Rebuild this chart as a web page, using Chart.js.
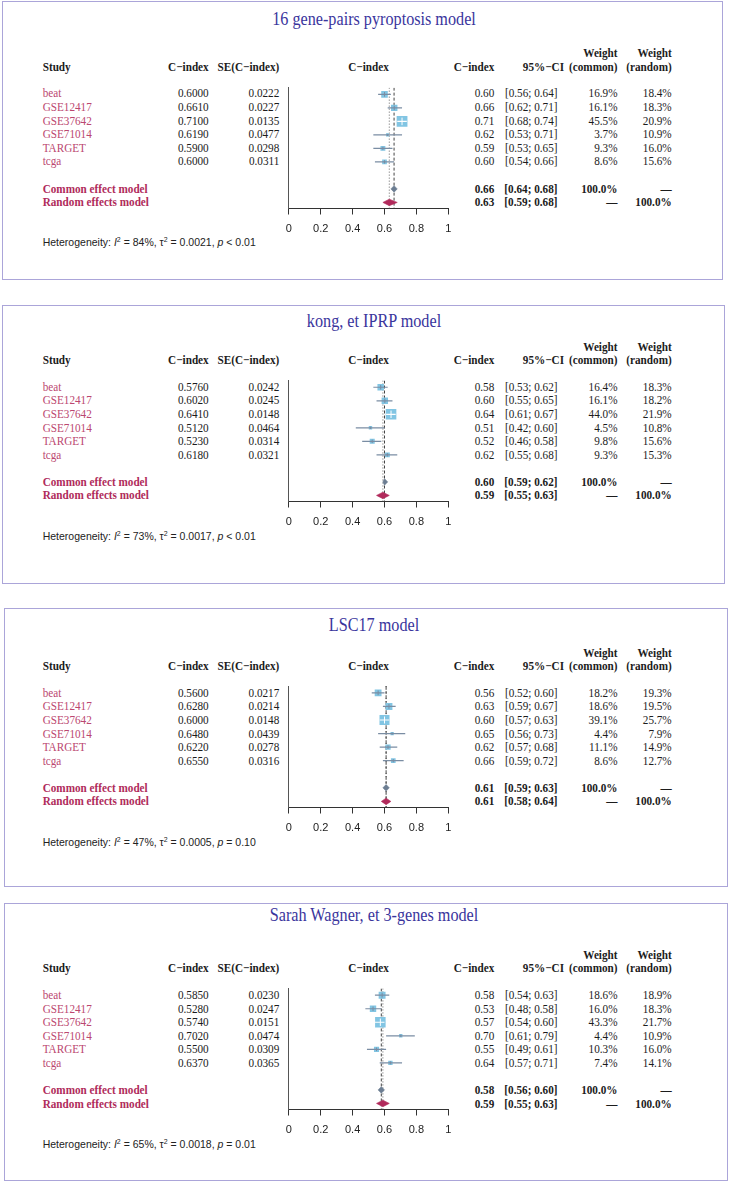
<!DOCTYPE html>
<html>
<head>
<meta charset="utf-8">
<script src="https://cdn.jsdelivr.net/npm/chart.js@4.4.1/dist/chart.umd.min.js"></script>
<style>
    html, body { margin: 0; padding: 0; background: #fff; }
    #page { position: relative; width: 729px; height: 1182px; overflow: hidden; }
    .box { position: absolute; border: 1px solid #aba5d9; box-sizing: border-box; }
    .t {
        position: absolute;
        white-space: nowrap;
        line-height: 1;
        font-family: 'Liberation Serif', 'Times New Roman', serif;
        font-size: 11.2px;
        color: #1c1c1c;
    }
    .title { font-size: 16.2px; color: #3a359d; }
    .b { font-weight: bold; }
    .study { color: #bb4770; }
    .model { color: #b02b5b; font-weight: bold; }
    .het { font-family: 'Liberation Sans', Arial, sans-serif; font-size: 10.5px; color: #222; }
    .het sup { font-size: 7px; vertical-align: 0; position: relative; top: -4px; }
    canvas { position: absolute; }
</style>
</head>
<body>
<div id="page"></div>
<script>
// ---- data ----
const models = ['16 gene-pairs pyroptosis model', 'kong, et IPRP model', 'LSC17 model', 'Sarah Wagner, et 3-genes model'];
const studies = ['beat', 'GSE12417', 'GSE37642', 'GSE71014', 'TARGET', 'tcga'];

const cIndex = [
    [0.6000, 0.6610, 0.7100, 0.6190, 0.5900, 0.6000],
    [0.5760, 0.6020, 0.6410, 0.5120, 0.5230, 0.6180],
    [0.5600, 0.6280, 0.6000, 0.6480, 0.6220, 0.6550],
    [0.5850, 0.5280, 0.5740, 0.7020, 0.5500, 0.6370],
];
const seIndex = [
    [0.0222, 0.0227, 0.0135, 0.0477, 0.0298, 0.0311],
    [0.0242, 0.0245, 0.0148, 0.0464, 0.0314, 0.0321],
    [0.0217, 0.0214, 0.0148, 0.0439, 0.0278, 0.0316],
    [0.0230, 0.0247, 0.0151, 0.0474, 0.0309, 0.0365],
];
const ciLow = [
    [0.56, 0.62, 0.68, 0.53, 0.53, 0.54],
    [0.53, 0.55, 0.61, 0.42, 0.46, 0.55],
    [0.52, 0.59, 0.57, 0.56, 0.57, 0.59],
    [0.54, 0.48, 0.54, 0.61, 0.49, 0.57],
];
const ciHigh = [
    [0.64, 0.71, 0.74, 0.71, 0.65, 0.66],
    [0.62, 0.65, 0.67, 0.60, 0.58, 0.68],
    [0.60, 0.67, 0.63, 0.73, 0.68, 0.72],
    [0.63, 0.58, 0.60, 0.79, 0.61, 0.71],
];
const weightCommon = [
    [16.9, 16.1, 45.5, 3.7, 9.3, 8.6],
    [16.4, 16.1, 44.0, 4.5, 9.8, 9.3],
    [18.2, 18.6, 39.1, 4.4, 11.1, 8.6],
    [18.6, 16.0, 43.3, 4.4, 10.3, 7.4],
];
const weightRandom = [
    [18.4, 18.3, 20.9, 10.9, 16.0, 15.6],
    [18.3, 18.2, 21.9, 10.8, 15.6, 15.3],
    [19.3, 19.5, 25.7, 7.9, 14.9, 12.7],
    [18.9, 18.3, 21.7, 10.9, 16.0, 14.1],
];
// [estimate, lower, upper]
const commonEffect = [[0.66, 0.64, 0.68], [0.60, 0.59, 0.62], [0.61, 0.59, 0.63], [0.58, 0.56, 0.60]];
const randomEffect = [[0.63, 0.59, 0.68], [0.59, 0.55, 0.63], [0.61, 0.58, 0.64], [0.59, 0.55, 0.63]];
const hetI2 = [84, 73, 47, 65];
const hetTau2 = ['0.0021', '0.0017', '0.0005', '0.0018'];
const hetP = ['&lt; 0.01', '&lt; 0.01', '= 0.10', '= 0.01'];
const xTicks = [0, 0.2, 0.4, 0.6, 0.8, 1];

// ---- layout ----
const panels = [
    { box: [2, 1, 722, 279], titleY: 20, headY: 66.7 },
    { box: [2, 305, 724, 583], titleY: 321.7, headY: 360 },
    { box: [4, 608, 727, 886], titleY: 626, headY: 666 },
    { box: [4, 903, 727, 1180], titleY: 915.7, headY: 968.3 },
];
const COL = { study: 42.7, cidx: 208.7, se: 279.3, plotMid: 368.5, est: 494.3, ci: 557.5, ciHead: 564, wc: 617.5, wr: 671.7 };
const Y_MIN = 0.5;
const Y_MAX = 9.45;
const PLOT_H = 121.5;
const ROW = PLOT_H / (Y_MAX - Y_MIN);
const COMMON_ROW = 8;
const RANDOM_ROW = 9;
const DIAMOND_H = 0.24;

const SQUARE = '#82c5e3';
const CI_LINE = '#7a8da3';
const COMMON_COL = '#6c7d92';
const RANDOM_COL = '#b12a5b';

Chart.defaults.font.family = "'Liberation Sans', Arial, sans-serif";

const page = document.getElementById('page');

function put(html, x, y, align, cls) {
    const el = document.createElement('div');
    el.className = 't ' + (cls || '');
    el.innerHTML = html;
    el.style.left = `${x}px`;
    el.style.top = `${y}px`;
    const tx = align === 'right' ? '-100%' : align === 'center' ? '-50%' : '0';
    el.style.transform = `translate(${tx}, -50%) scaleY(1.1)`;
    page.appendChild(el);
}

function squareSide(w) {
    return 1.6 * Math.sqrt(w);
}

function drawTable(p) {
    const lay = panels[p];
    const [l, t, r, b] = lay.box;
    const box = document.createElement('div');
    box.className = 'box';
    Object.assign(box.style, { left: `${l}px`, top: `${t}px`, width: `${r - l + 1}px`, height: `${b - t + 1}px` });
    page.appendChild(box);

    const h = lay.headY;
    const rowY = (row) => h + 20 + (row - Y_MIN) * ROW;

    put(models[p], 374, lay.titleY, 'center', 'title');

    put('Study', COL.study, h, 'left', 'b');
    put('C−index', COL.cidx, h, 'right', 'b');
    put('SE(C−index)', COL.se, h, 'right', 'b');
    put('C−index', COL.plotMid, h, 'center', 'b');
    put('C−index', COL.est, h, 'right', 'b');
    put('95%−CI', COL.ciHead, h, 'right', 'b');
    put('(common)', COL.wc, h, 'right', 'b');
    put('Weight', COL.wc, h - 13.4, 'right', 'b');
    put('(random)', COL.wr, h, 'right', 'b');
    put('Weight', COL.wr, h - 13.4, 'right', 'b');

    studies.forEach((s, i) => {
        const y = rowY(i + 1);
        put(s, COL.study, y, 'left', 'study');
        put(cIndex[p][i].toFixed(4), COL.cidx, y, 'right');
        put(seIndex[p][i].toFixed(4), COL.se, y, 'right');
        put(cIndex[p][i].toFixed(2), COL.est, y, 'right');
        put(`[${ciLow[p][i].toFixed(2)}; ${ciHigh[p][i].toFixed(2)}]`, COL.ci, y, 'right');
        put(`${weightCommon[p][i].toFixed(1)}%`, COL.wc, y, 'right');
        put(`${weightRandom[p][i].toFixed(1)}%`, COL.wr, y, 'right');
    });

    const yc = rowY(COMMON_ROW);
    const ce = commonEffect[p];
    put('Common effect model', COL.study, yc, 'left', 'model');
    put(ce[0].toFixed(2), COL.est, yc, 'right', 'b');
    put(`[${ce[1].toFixed(2)}; ${ce[2].toFixed(2)}]`, COL.ci, yc, 'right', 'b');
    put('100.0%', COL.wc, yc, 'right', 'b');
    put('—', COL.wr, yc, 'right', 'b');

    const yr = rowY(RANDOM_ROW);
    const re = randomEffect[p];
    put('Random effects model', COL.study, yr, 'left', 'model');
    put(re[0].toFixed(2), COL.est, yr, 'right', 'b');
    put(`[${re[1].toFixed(2)}; ${re[2].toFixed(2)}]`, COL.ci, yr, 'right', 'b');
    put('—', COL.wc, yr, 'right', 'b');
    put('100.0%', COL.wr, yr, 'right', 'b');

    put(`Heterogeneity: <i>I</i><sup>2</sup> = ${hetI2[p]}%, τ<sup>2</sup> = ${hetTau2[p]}, <i>p</i> ${hetP[p]}`,
        COL.study, h + 175.6, 'left', 'het');
}

function diamond(eff, row, color) {
    return {
        data: [
            { x: eff[1], y: row },
            { x: eff[0], y: row - DIAMOND_H },
            { x: eff[2], y: row },
            { x: eff[0], y: row + DIAMOND_H },
            { x: eff[1], y: row },
        ],
        showLine: true,
        fill: 'shape',
        backgroundColor: color,
        borderColor: color,
        borderWidth: 0.6,
        pointRadius: 0,
    };
}

function refLine(x, color, dash) {
    return {
        data: [{ x, y: Y_MIN }, { x, y: Y_MAX }],
        showLine: true,
        borderColor: color,
        borderWidth: 1,
        borderDash: dash,
        pointRadius: 0,
    };
}

function drawForest(p) {
    const lay = panels[p];
    const canvas = document.createElement('canvas');
    canvas.width = 200;
    canvas.height = 161;
    canvas.style.left = '270px';
    canvas.style.top = `${lay.headY + 13}px`;
    canvas.style.width = '200px';
    canvas.style.height = '161px';
    page.appendChild(canvas);

    // CI drawn in white when it fits inside its square
    const inside = (chart, i) => {
        const xs = chart.scales.x;
        const span = xs.getPixelForValue(ciHigh[p][i]) - xs.getPixelForValue(ciLow[p][i]);
        return span < squareSide(weightCommon[p][i]);
    };
    const points = studies.map((_, i) => ({ x: cIndex[p][i], y: i + 1 }));

    // first dataset is painted on top
    const datasets = [];
    datasets.push({
        data: points,
        pointStyle: 'line',
        pointRotation: 90,
        pointRadius: weightCommon[p].map((w) => squareSide(w) * 0.35),
        pointBorderWidth: 1,
        pointBorderColor: (ctx) => (inside(ctx.chart, ctx.dataIndex) ? '#ffffff' : CI_LINE),
        showLine: false,
    });
    studies.forEach((_, i) => {
        datasets.push({
            data: [{ x: ciLow[p][i], y: i + 1 }, { x: ciHigh[p][i], y: i + 1 }],
            showLine: true,
            borderWidth: 1.2,
            borderColor: (ctx) => (inside(ctx.chart, i) ? '#ffffff' : CI_LINE),
            pointRadius: 0,
        });
    });
    datasets.push({
        data: points,
        pointStyle: 'rect',
        pointRadius: weightCommon[p].map((w) => squareSide(w) / Math.SQRT2),
        pointBackgroundColor: SQUARE,
        pointBorderWidth: 0,
        showLine: false,
    });
    datasets.push(diamond(commonEffect[p], COMMON_ROW, COMMON_COL));
    datasets.push(diamond(randomEffect[p], RANDOM_ROW, RANDOM_COL));
    datasets.push(refLine(commonEffect[p][0], '#444', [3, 2]));
    datasets.push(refLine(randomEffect[p][0], '#666', [1, 2]));

    new Chart(canvas, {
        type: 'scatter',
        data: { datasets },
        options: {
            responsive: false,
            animation: false,
            events: [],
            layout: { padding: { left: 18.8, right: 21.7, top: 7, bottom: 4.5 } },
            plugins: { legend: { display: false }, tooltip: { enabled: false } },
            scales: {
                x: {
                    type: 'linear',
                    min: 0,
                    max: 1,
                    afterBuildTicks: (s) => {
                        s.ticks = xTicks.map((v) => ({ value: v }));
                    },
                    afterFit: (s) => {
                        s.height = 28;
                    },
                    grid: { drawOnChartArea: false, drawTicks: true, tickLength: 6, color: '#333', lineWidth: 1 },
                    border: { display: true, color: '#333', width: 1 },
                    ticks: {
                        color: '#222',
                        font: { size: 11 },
                        padding: 8,
                        maxRotation: 0,
                        autoSkip: false,
                        callback: (v) => String(v),
                    },
                },
                y: {
                    type: 'linear',
                    reverse: true,
                    min: Y_MIN,
                    max: Y_MAX,
                    afterFit: (s) => {
                        s.width = 0;
                    },
                    grid: { display: false, drawTicks: false },
                    border: { display: true, color: '#555', width: 1 },
                    ticks: { display: false },
                },
            },
        },
    });
}

panels.forEach((_, p) => {
    drawTable(p);
    drawForest(p);
});
</script>
</body>
</html>
